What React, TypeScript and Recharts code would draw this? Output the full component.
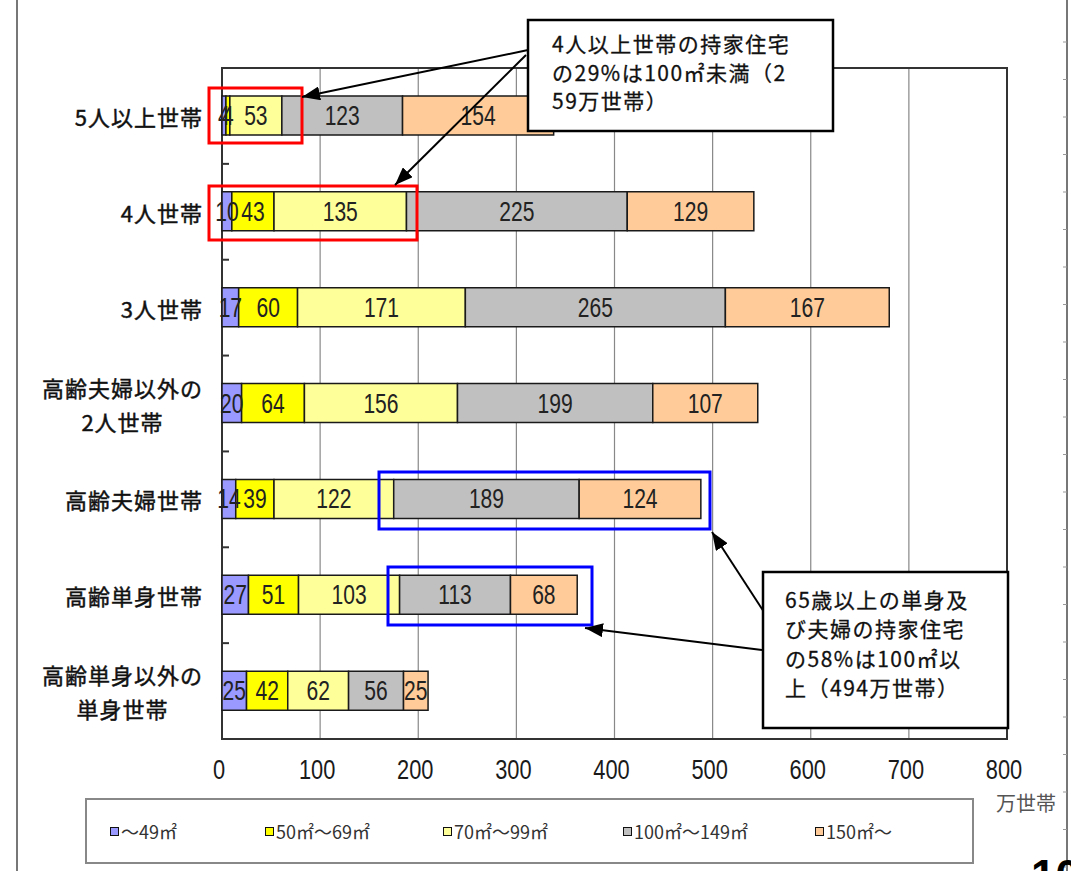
import React from 'react';
import { BarChart, Bar, XAxis, YAxis, CartesianGrid, LabelList, ReferenceArea, ReferenceLine } from 'recharts';

const categories = ['5人以上世帯', '4人世帯', '3人世帯', '高齢夫婦以外の\n2人世帯', '高齢夫婦世帯', '高齢単身世帯', '高齢単身以外の\n単身世帯'];
const s49 = [4, 10, 17, 20, 14, 27, 25];
const s50to69 = [4, 43, 60, 64, 39, 51, 42];
const s70to99 = [53, 135, 171, 156, 122, 103, 62];
const s100to149 = [123, 225, 265, 199, 189, 113, 56];
const s150 = [154, 129, 167, 107, 124, 68, 25];
const xTicks = [0, 100, 200, 300, 400, 500, 600, 700, 800];
const seriesNames = ['～49㎡', '50㎡～69㎡', '70㎡～99㎡', '100㎡～149㎡', '150㎡～'];
const seriesKeys = ['a', 'b', 'c', 'd', 'e'];
const seriesColors = ['#9999ff', '#ffff00', '#ffff99', '#c0c0c0', '#ffcc99'];
const seriesValues = [s49, s50to69, s70to99, s100to149, s150];
const legendLeft = [108, 263, 441, 621, 813];

const data = categories.map((name, i) => {
  const row: any = { name };
  seriesKeys.forEach((k, j) => { row[k] = seriesValues[j][i]; });
  return row;
});

const NUM_FONT = '"Liberation Sans", Arial, sans-serif';
const JP_FONT = '"Noto Sans CJK JP", "Noto Sans", sans-serif';

const YTick = (props: any) => {
  const { x, y, payload } = props;
  const lines: string[] = String(payload.value).split('\n');
  const fs = 22;
  const common = { fontFamily: JP_FONT, fontSize: fs, fill: '#111', stroke: '#111', strokeWidth: 0.45, style: { letterSpacing: 1 } } as any;
  if (lines.length === 1) {
    return (
      <text x={x} y={y} textAnchor="end" dominantBaseline="central" {...common}>{lines[0]}</text>
    );
  }
  const maxLen = Math.max(...lines.map((l) => l.length));
  const cx = x - (maxLen * (fs + 1)) / 2;
  return (
    <g>
      {lines.map((l, i) => (
        <text key={i} x={cx} y={y + (i - (lines.length - 1) / 2) * 34} textAnchor="middle" dominantBaseline="central" {...common}>{l}</text>
      ))}
    </g>
  );
};

const XTick = (props: any) => {
  const { x, y, payload } = props;
  return (
    <text transform={`translate(${x - 3},${y}) scale(0.78,1)`} textAnchor="middle" dy="0.71em" fontFamily={NUM_FONT} fontSize={28} fill="#1a1a1a">
      {payload.value}
    </text>
  );
};

const NarrowLabel = (props: any) => {
  const vb = props.viewBox || props;
  const x = vb.x ?? props.x;
  const y = vb.y ?? props.y;
  const w = vb.width ?? props.width;
  const h = vb.height ?? props.height;
  const cx = x + w / 2;
  const cy = y + h / 2;
  return (
    <text transform={`translate(${cx},${cy}) scale(0.78,1)`} textAnchor="middle" dominantBaseline="central" fontFamily={NUM_FONT} fontSize={27} fill="#222">
      {props.value}
    </text>
  );
};

const TickMark = (p: any) => (
  <line x1={p.x1} y1={p.y1} x2={p.x1 + 7} y2={p.y1} stroke="#333" strokeWidth={2} />
);

export default function App() {
  return (
    <div style={{ position: 'absolute', left: 0, top: 0, width: 1071, height: 871, overflow: 'hidden', background: '#fff' }}>
      <BarChart
        width={1071}
        height={871}
        data={data}
        layout="vertical"
        margin={{ top: 68, right: 64, left: 0, bottom: 92 }}
        barSize={39}
      >
        <CartesianGrid horizontal={false} vertical stroke="#888" strokeWidth={1.2} />
        <XAxis
          type="number"
          domain={[0, 800]}
          ticks={xTicks}
          interval={0}
          height={40}
          axisLine={false}
          tickLine={false}
          tickMargin={14}
          tick={<XTick />}
        />
        <YAxis
          type="category"
          dataKey="name"
          width={222}
          axisLine={false}
          tickLine={false}
          tickSize={0}
          tickMargin={19}
          interval={0}
          tick={<YTick />}
        />
        {seriesKeys.map((k, j) => (
          <Bar key={k} dataKey={k} name={seriesNames[j]} stackId="s" fill={seriesColors[j]} stroke="#1a1a1a" strokeWidth={1.5} isAnimationActive={false}>
            <LabelList dataKey={k} position="center" content={<NarrowLabel />} />
          </Bar>
        ))}
        <ReferenceArea x1={0} x2={800} fill="none" stroke="#333" strokeWidth={2} ifOverflow="visible" />
        {categories.slice(1).map((c) => (
          <ReferenceLine key={c} y={c} position="start" shape={TickMark} ifOverflow="visible" />
        ))}
      </BarChart>

      <svg width={1071} height={871} style={{ position: 'absolute', left: 0, top: 0, pointerEvents: 'none' }}>
        <defs>
          <marker id="ah" markerUnits="userSpaceOnUse" markerWidth={18} markerHeight={14} refX={18} refY={7} orient="auto">
            <path d="M0,0 L18,7 L0,14 z" fill="#000" />
          </marker>
        </defs>
        <line x1={17} y1={0} x2={17} y2={871} stroke="#777" strokeWidth={2} />
        <line x1={1067} y1={0} x2={1067} y2={871} stroke="#777" strokeWidth={2} />
        {Array.from({ length: 23 }, (_, i) => (
          <line key={i} x1={1063} y1={42 + i * 37.5} x2={1067} y2={42 + i * 37.5} stroke="#999" strokeWidth={1} />
        ))}
        <rect x={209} y={88} width={93} height={55} fill="none" stroke="#ff0000" strokeWidth={3} />
        <rect x={209} y={186} width={208} height={54} fill="none" stroke="#ff0000" strokeWidth={3} />
        <rect x={379} y={472} width={331} height={57} fill="none" stroke="#0000ff" strokeWidth={3} />
        <rect x={388} y={567} width={204} height={58} fill="none" stroke="#0000ff" strokeWidth={3} />
        <line x1={528} y1={50} x2={302} y2={97} stroke="#000" strokeWidth={2} markerEnd="url(#ah)" />
        <line x1={526} y1={55} x2={395} y2={185} stroke="#000" strokeWidth={2} markerEnd="url(#ah)" />
        <line x1={764} y1={612} x2={712} y2={532} stroke="#000" strokeWidth={2} markerEnd="url(#ah)" />
        <line x1={762} y1={650} x2={585} y2={628} stroke="#000" strokeWidth={2} markerEnd="url(#ah)" />
        <rect x={528} y={20} width={305} height={111} fill="#fff" stroke="#000" strokeWidth={2.5} />
        {['4人以上世帯の持家住宅', 'の29%は100㎡未満（2', '59万世帯）'].map((t, i) => (
          <text key={i} x={552} y={43 + i * 28.5} dominantBaseline="central" fontFamily={JP_FONT} fontSize={21} fill="#111" stroke="#111" strokeWidth={0.3} style={{ letterSpacing: 1.5 }}>{t}</text>
        ))}
        <rect x={763} y={572} width={245} height={156} fill="#fff" stroke="#000" strokeWidth={2.5} />
        {['65歳以上の単身及', 'び夫婦の持家住宅', 'の58%は100㎡以', '上（494万世帯）'].map((t, i) => (
          <text key={i} x={785} y={599 + i * 29.3} dominantBaseline="central" fontFamily={JP_FONT} fontSize={21} fill="#111" stroke="#111" strokeWidth={0.3} style={{ letterSpacing: 1.5 }}>{t}</text>
        ))}
        <text x={996} y={802} dominantBaseline="central" fontFamily={JP_FONT} fontSize={20} fill="#555">万世帯</text>
        <text x={1031} y={891} fontFamily='"Liberation Sans", sans-serif' fontSize={44} fontWeight="bold" fill="#000">10</text>
      </svg>

      <div style={{ position: 'absolute', left: 85, top: 798, width: 889, height: 66, boxSizing: 'border-box', border: '2px solid #888', background: '#fff' }}>
        {seriesNames.map((n, j) => (
          <div key={n} style={{ position: 'absolute', left: legendLeft[j] - 85, top: 18, display: 'flex', alignItems: 'center', fontFamily: JP_FONT, fontSize: 18, color: '#333', whiteSpace: 'nowrap' }}>
            <span style={{ display: 'inline-block', width: 7, height: 7, background: seriesColors[j], border: '1.5px solid #111', marginRight: 2 }} />
            <span>{n}</span>
          </div>
        ))}
      </div>
    </div>
  );
}
